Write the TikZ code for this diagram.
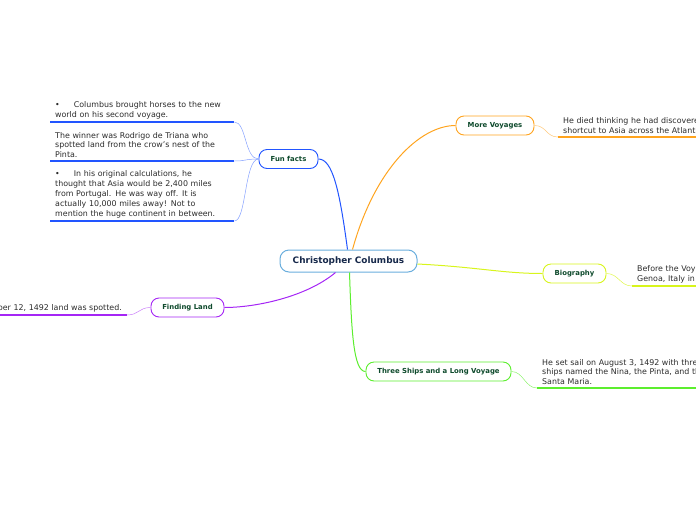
\documentclass[tikz,border=0pt]{standalone}
\usepackage{fontspec}
\setmainfont{DejaVu Sans}
\usetikzlibrary{positioning}
\definecolor{mainblue}{HTML}{6AAEDD}
\definecolor{voyorange}{HTML}{FFA41F}
\definecolor{funblue}{HTML}{2255FF}
\definecolor{bioyellow}{HTML}{D8F51C}
\definecolor{shipgreen}{HTML}{5CEE2E}
\definecolor{landpurple}{HTML}{A526F5}
\definecolor{labelgreen}{HTML}{0E4A2C}
\definecolor{titlenavy}{HTML}{16284A}
\definecolor{leafgray}{HTML}{2B2B2B}

\begin{document}
\begin{tikzpicture}[x=1pt, y=-1pt,
  topic/.style={draw, fill=white, rounded corners=8pt, line width=0.9pt, minimum height=19pt, inner sep=2pt,
    font=\fontsize{6.9}{8}\selectfont\bfseries, text=labelgreen},
  central/.style={draw=mainblue, fill=white, rounded corners=9pt, line width=1pt, minimum height=22pt, minimum width=137pt,
    font=\fontsize{8.9}{10}\selectfont\bfseries, text=titlenavy},
  leaf/.style={anchor=south west, align=left, inner xsep=5pt, inner ysep=3pt,
    font=\fontsize{7.9}{9.8}\selectfont, text=leafgray},
  branch/.style={line width=1pt},
  twig/.style={line width=0.5pt},
  rule/.style={line width=1.4pt}
]
  \useasboundingbox (0,0) rectangle (696,520);
  \clip (0,0) rectangle (696,520);

  % central topic
  \node[central] (cc) at (348.5,261) {Christopher Columbus};

  % main topics
  \node[topic, draw=voyorange, minimum width=78pt] (voy) at (495,125.5) {More Voyages};
  \node[topic, draw=funblue, minimum width=59pt] (fun) at (288.5,159) {Fun facts};
  \node[topic, draw=bioyellow, minimum width=63pt] (bio) at (574.5,273.5) {Biography};
  \node[topic, draw=shipgreen, minimum width=145pt] (ship) at (438.5,371.5) {Three Ships and a Long Voyage};
  \node[topic, draw=landpurple, minimum width=73pt] (land) at (187.5,307.5) {Finding Land};

  % leaves
  \node[leaf, text width=200pt] (voya) at (558,137) {He died thinking he had discovered a\\shortcut to Asia across the Atlantic.};
  \node[leaf, text width=174pt] (funa) at (50,122) {\textbullet\hspace{14pt}Columbus brought horses to the new\\world on his second voyage.};
  \node[leaf, text width=174pt] (funb) at (50,161) {The winner was Rodrigo de Triana who\\spotted land from the crow's nest of the\\Pinta.};
  \node[leaf, text width=174pt] (func) at (50,221) {\textbullet\hspace{14pt}In his original calculations, he\\thought that Asia would be 2,400 miles\\from Portugal. He was way off. It is\\actually 10,000 miles away! Not to\\mention the huge continent in between.};
  \node[leaf, text width=200pt] (bioa) at (632,286) {Before the Voyage, Columbus was born in\\Genoa, Italy in 1451.};
  \node[leaf, text width=200pt] (shipa) at (537,388) {He set sail on August 3, 1492 with three\\ships named the Nina, the Pinta, and the\\Santa Maria.};
  \node[leaf, anchor=south east, align=right, text width=200pt] (landa) at (127,315) {On October 12, 1492 land was spotted.};

  % branches from the centre
  \draw[branch, voyorange] ([xshift=4pt]cc.north) .. controls +(22,-80) and +(-36,0) .. (voy.west);
  \draw[branch, funblue] ([xshift=-1pt]cc.north) .. controls +(-8,-60) and +(14,0) .. (fun.east);
  \draw[branch, bioyellow] ([yshift=-3pt]cc.east) .. controls +(60,3) and +(-40,0) .. (bio.west);
  \draw[branch, shipgreen] ([xshift=1pt]cc.south) .. controls +(2,60) and +(-12,0) .. (ship.west);
  \draw[branch, landpurple] ([xshift=-13pt]cc.south) .. controls +(-30,25) and +(30,0) .. (land.east);

  % twigs to the leaves
  \draw[twig, voyorange!60] (voy.east) .. controls +(12,0) and +(-12,0) .. (voya.south west);
  \draw[twig, funblue!55] (fun.west) .. controls +(-14,0) and +(12,0) .. (funa.south east);
  \draw[twig, funblue!55] (fun.west) .. controls +(-14,0) and +(12,0) .. (funb.south east);
  \draw[twig, funblue!55] (fun.west) .. controls +(-14,0) and +(12,0) .. (func.south east);
  \draw[twig, bioyellow!80] (bio.east) .. controls +(12,0) and +(-12,0) .. (bioa.south west);
  \draw[twig, shipgreen!70] (ship.east) .. controls +(12,0) and +(-12,0) .. (shipa.south west);
  \draw[twig, landpurple!60] (land.west) .. controls +(-12,0) and +(12,0) .. (landa.south east);

  % rules under the leaves
  \draw[rule, voyorange] (voya.south west) -- (voya.south east);
  \draw[rule, funblue] (funa.south west) -- (funa.south east);
  \draw[rule, funblue] (funb.south west) -- (funb.south east);
  \draw[rule, funblue] (func.south west) -- (func.south east);
  \draw[rule, bioyellow] (bioa.south west) -- (bioa.south east);
  \draw[rule, shipgreen] (shipa.south west) -- (shipa.south east);
  \draw[rule, landpurple] (landa.south west) -- (landa.south east);
\end{tikzpicture}
\end{document}
